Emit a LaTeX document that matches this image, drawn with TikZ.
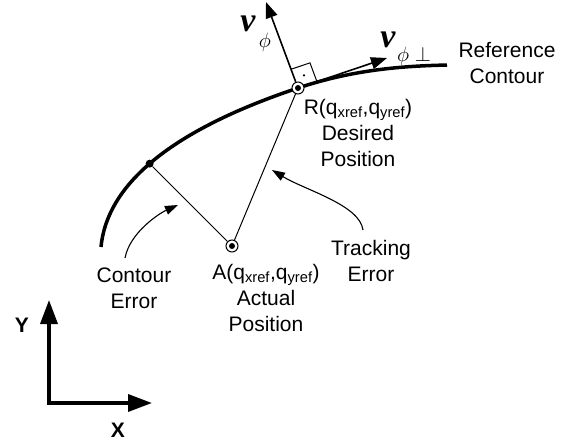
\documentclass[tikz,border=0pt]{standalone}
\usepackage{fontspec}
\setmainfont{Liberation Sans}
\newfontfamily\vfont{Liberation Serif}
\usetikzlibrary{arrows.meta,calc,positioning}

\begin{document}
\begin{tikzpicture}[x=1pt,y=-1pt,
  lbl/.style={anchor=north, inner sep=0pt, align=center, font=\fontsize{21}{26}\selectfont},
  vlbl/.style={inner sep=0pt, font=\vfont\bfseries\itshape\fontsize{34}{34}\selectfont},
  sublbl/.style={inner sep=0pt, font=\fontsize{21}{21}\selectfont},
  axlbl/.style={inner sep=0pt, font=\bfseries\fontsize{21}{21}\selectfont},
  note/.style={line width=1.1pt, -{Triangle[length=13pt,width=9pt]}},
  vec/.style={line width=1.6pt, -{Triangle[length=16pt,width=12pt]}},
  axis/.style={line width=3.5pt, -{Triangle[length=24pt,width=17pt]}},
  ring/.style={circle, draw, line width=1pt, minimum size=12pt, inner sep=0pt, fill=white}]
\useasboundingbox (0,0) rectangle (574,445);

% reference contour
\draw[line width=3.5pt] (101,247) .. controls (108,175) and (190,124) .. coordinate[pos=0.44] (cpt) (298,88)
  .. controls (358,68) and (410,66) .. (447,65);

\node[ring] (R) at (298,88) {};
\node[ring] (A) at (232,246) {};
\node[circle, fill, minimum size=8pt, inner sep=0pt] (C) at (cpt) {};
\fill (R.center) circle (3pt);
\fill (A.center) circle (3pt);

% errors
\draw[line width=1pt] (A) -- (R);
\draw[line width=1pt] (A) -- (C);

% velocity vectors
\coordinate (phitip) at (266,2);
\coordinate (perptip) at (387,58);
\draw[vec] (R) -- (phitip);
\draw[vec] (R) -- (perptip);
\coordinate (b1) at ($(R.center)!20pt!(phitip)$);
\coordinate (b3) at ($(R.center)!20pt!(perptip)$);
\draw[line width=1pt] (b1) -- ($(b1)+(b3)-(R.center)$) -- (b3);
\fill ($(R.center)!0.5!($(b1)+(b3)-(R.center)$)$) circle (1.2pt);

\node[vlbl] (vphi) at (248,24) {v};
\node[sublbl] (vphisub) at (265,42) {$\phi$};
\node[vlbl] (vperp) at (388,40) {v};
\node[sublbl] (vperpsub) at (414,56) {$\phi\perp$};

% labels
\node[lbl] (refc) at (507,42) {Reference\\Contour};
\node[lbl] (rlbl) at (358,99) {R(q\textsubscript{xref},q\textsubscript{yref})\\Desired\\Position};
\node[lbl] (albl) at (266,264) {A(q\textsubscript{xref},q\textsubscript{yref})\\Actual\\Position};
\node[lbl] (cerr) at (134,268) {Contour\\Error};
\node[lbl] (terr) at (371,240) {Tracking\\Error};

\coordinate (ctip) at (178,205);
\coordinate (ttip) at (272,170);
\draw[note] ($(cerr.north)+(-9,-10)$) .. controls (130,232) and (160,213) .. (ctip);
\draw[note] ($(terr.north)+(-8,-10)$) .. controls (360,205) and (305,190) .. (ttip);

% axes
\coordinate (O) at (49,403);
\coordinate (ytip) at (49,300);
\coordinate (xtip) at (152,403);
\draw[axis] ($(O)+(0,1.75)$) -- (ytip);
\draw[axis] ($(O)+(-1.75,0)$) -- (xtip);
\node[axlbl] (ylbl) at (22,325) {Y};
\node[axlbl] (xlbl) at (118,430) {X};
\end{tikzpicture}
\end{document}
